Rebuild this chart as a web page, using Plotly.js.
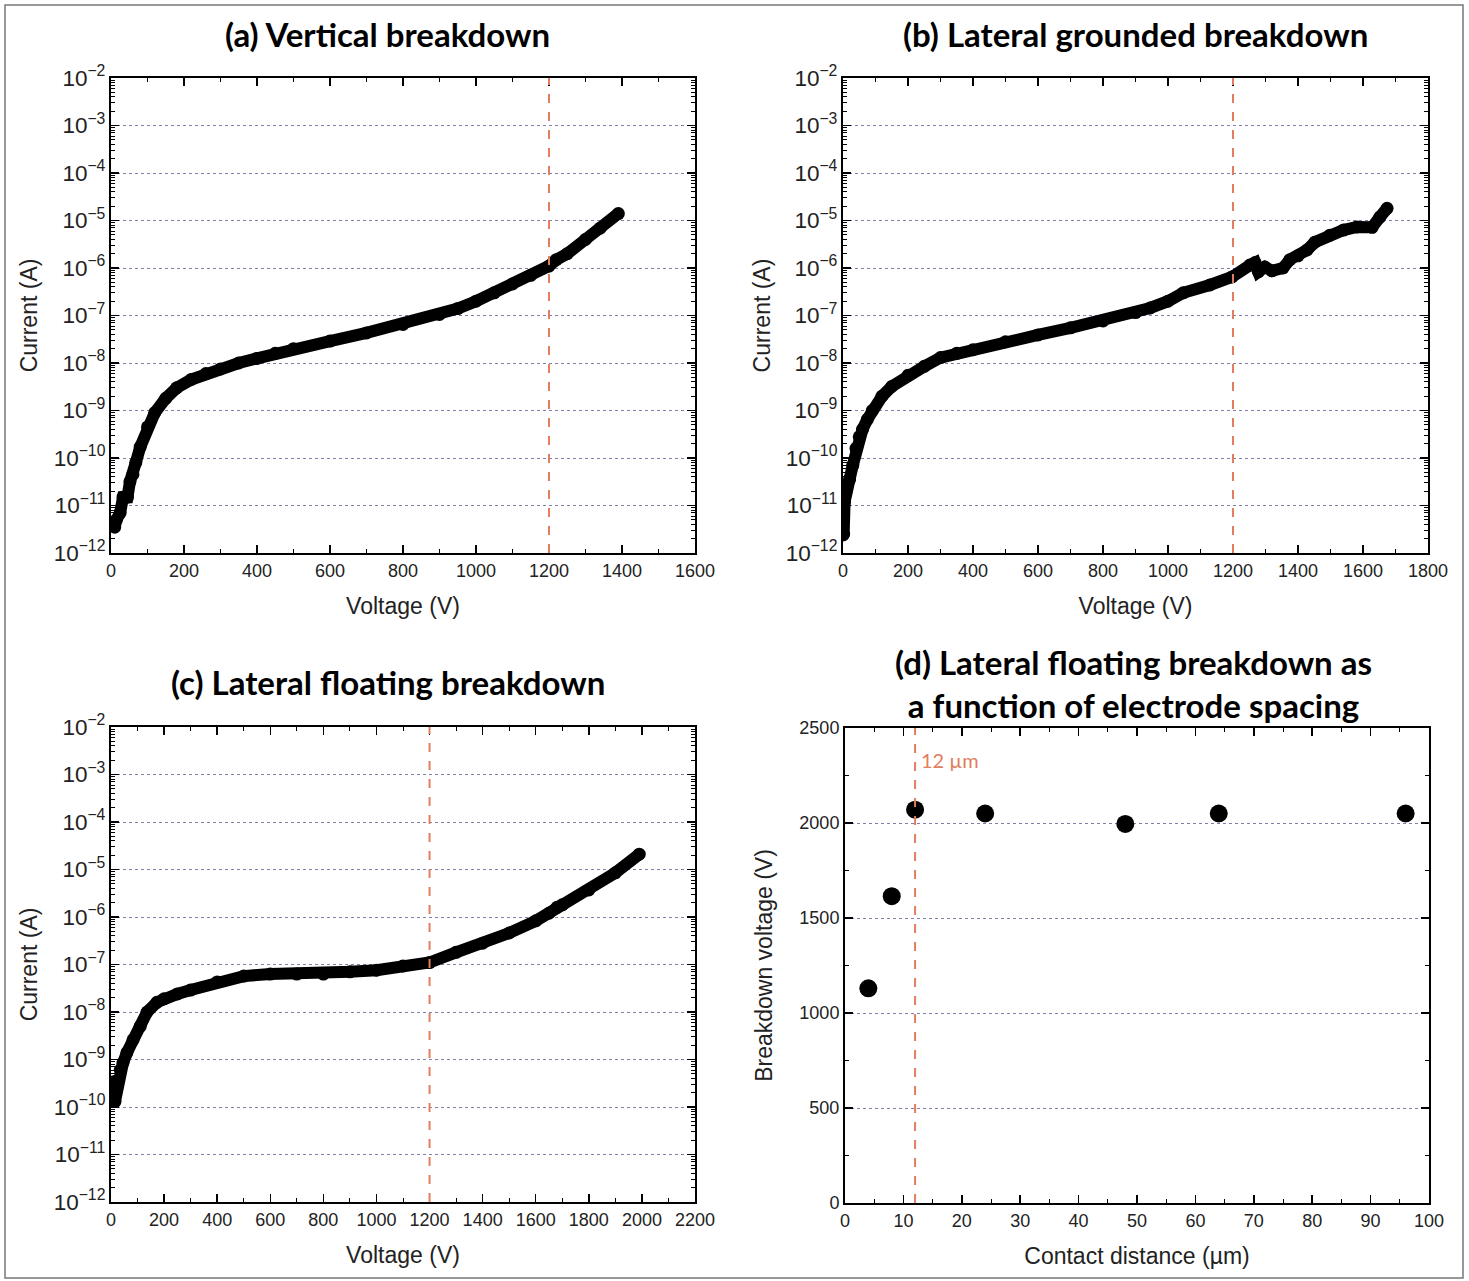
<!DOCTYPE html>
<html>
<head>
<meta charset="utf-8">
<script src="https://cdn.plot.ly/plotly-3.0.1.min.js"></script>
<style>html,body{margin:0;padding:0;background:#fff;}#chart{width:1469px;height:1281px;}</style>
</head>
<body>
<div id="chart"></div>
<script>
// ---- Panel (a): Vertical breakdown ----
const voltageA = [5, 10, 15, 25, 33, 45, 52, 60, 68, 80, 100, 120, 150, 180, 220, 260, 300, 350, 400, 450, 500, 600, 700, 800, 900, 950, 1000, 1050, 1100, 1150, 1200, 1220, 1250, 1300, 1340, 1390];
const currentA = [4e-12, 3.5e-12, 5e-12, 7e-12, 1.5e-11, 1.5e-11, 3.2e-11, 4.5e-11, 8e-11, 1.7e-10, 4.5e-10, 9e-10, 1.8e-9, 3e-9, 4.5e-9, 6e-9, 7.5e-9, 1e-8, 1.25e-8, 1.6e-8, 2e-8, 2.9e-8, 4.3e-8, 6.5e-8, 1.05e-7, 1.4e-7, 2e-7, 3e-7, 4.6e-7, 7e-7, 1.1e-6, 1.5e-6, 2e-6, 4e-6, 6.9e-6, 1.4e-5];

// ---- Panel (b): Lateral grounded breakdown ----
const voltageB = [0, 2, 5, 10, 20, 30, 40, 50, 60, 75, 90, 120, 150, 200, 250, 300, 350, 400, 500, 600, 700, 800, 900, 945, 1000, 1047, 1129, 1197, 1252, 1268, 1278, 1298, 1320, 1354, 1375, 1400, 1428, 1452, 1498, 1540, 1581, 1628, 1652, 1674];
const currentB = [2.4e-12, 2.5e-12, 1.2e-11, 2.5e-11, 3.5e-11, 7e-11, 1.6e-10, 2.8e-10, 4e-10, 6.5e-10, 1e-9, 2e-9, 3.2e-9, 5.5e-9, 8.5e-9, 1.3e-8, 1.6e-8, 1.9e-8, 2.8e-8, 3.9e-8, 5.5e-8, 7.7e-8, 1.15e-7, 1.44e-7, 2e-7, 3e-7, 4.4e-7, 6.5e-7, 1.15e-6, 1.3e-6, 8.3e-7, 1.05e-6, 8.7e-7, 1e-6, 1.5e-6, 1.8e-6, 2.4e-6, 3.5e-6, 4.9e-6, 6.3e-6, 7.3e-6, 7.2e-6, 1.18e-5, 1.8e-5];

// ---- Panel (c): Lateral floating breakdown ----
const voltageC = [2, 5, 10, 15, 26, 35, 45, 60, 83, 110, 136, 173, 200, 250, 300, 400, 500, 600, 700, 800, 900, 1000, 1100, 1200, 1300, 1400, 1500, 1600, 1650, 1680, 1700, 1800, 1900, 1990];
const currentC = [1.4e-10, 2e-10, 3.4e-10, 1.3e-10, 3.7e-10, 6e-10, 8.4e-10, 1.4e-9, 2.6e-9, 5e-9, 1e-8, 1.6e-8, 1.9e-8, 2.4e-8, 2.9e-8, 4.3e-8, 5.7e-8, 6.3e-8, 6.3e-8, 6.3e-8, 7e-8, 7.6e-8, 9.3e-8, 1.1e-7, 1.8e-7, 2.8e-7, 4.6e-7, 8.3e-7, 1.2e-6, 1.6e-6, 1.8e-6, 3.7e-6, 8.5e-6, 2.1e-5];

// ---- Panel (d): breakdown vs electrode spacing ----
const spacingD = [4, 8, 12, 24, 48, 64, 96];
const breakdownD = [1130, 1615, 2070, 2050, 1995, 2050, 2050];

// reference markers
const ratedVoltage = 1200;
const chosenSpacing = 12;
const titles = ["(a) Vertical breakdown", "(b) Lateral grounded breakdown", "(c) Lateral floating breakdown", "(d) Lateral floating breakdown as<br>a function of electrode spacing"];

const RED = '#e27d60';
const GRID = '#8080a8';
const TICKFONT = {family: 'Liberation Sans, Arial, sans-serif', size: 18, color: '#222'};
const TITLEFONT = {family: 'Liberation Sans, Arial, sans-serif', size: 23, color: '#222'};

function curveTrace(x, y, xa, ya) {
  return {x: x, y: y, xaxis: xa, yaxis: ya, type: 'scatter', mode: 'lines+markers',
    line: {color: '#000', width: 12}, marker: {color: '#000', size: 13}, showlegend: false, hoverinfo: 'x+y'};
}

function logY(domain, anchor, standoff) {
  return {domain: domain, anchor: anchor, type: 'log', range: [-12, -2], dtick: 1,
    exponentformat: 'power', showexponent: 'all',
    ticks: 'inside', ticklen: 8, tickwidth: 1.5, tickcolor: '#000',
    showline: true, linewidth: 2, linecolor: '#000', mirror: 'allticks',
    showgrid: true, gridcolor: GRID, griddash: 'dot', gridwidth: 1, zeroline: false,
    minor: {ticks: 'inside', ticklen: 4, tickwidth: 1, tickcolor: '#000', dtick: 'D1', showgrid: false},
    tickfont: TICKFONT,
    title: {text: 'Current (A)', font: TITLEFONT, standoff: standoff}};
}

function linX(domain, anchor, maxv, dt) {
  return {domain: domain, anchor: anchor, range: [0, maxv], dtick: dt, tick0: 0,
    ticks: 'inside', ticklen: 8, tickwidth: 1.5, tickcolor: '#000',
    showline: true, linewidth: 2, linecolor: '#000', mirror: 'allticks',
    showgrid: false, zeroline: false,
    minor: {ticks: 'inside', ticklen: 4, tickwidth: 1, tickcolor: '#000', dtick: dt / 2, showgrid: false},
    tickfont: TICKFONT,
    title: {text: 'Voltage (V)', font: TITLEFONT, standoff: 18}};
}

const data = [
  curveTrace(voltageA, currentA, 'x', 'y'),
  curveTrace(voltageB, currentB, 'x2', 'y2'),
  curveTrace(voltageC, currentC, 'x3', 'y3'),
  {x: spacingD, y: breakdownD, xaxis: 'x4', yaxis: 'y4', type: 'scatter', mode: 'markers',
    marker: {color: '#000', size: 18}, showlegend: false}
];

const colL = [111/1469, 695/1469];
const colR = [843/1469, 1428/1469];
const rowT = [1 - 553/1281, 1 - 78/1281];
const rowB = [1 - 1202/1281, 1 - 727/1281];

const x4 = linX([845/1469, 1429/1469], 'y4', 100, 10);
x4.title = {text: 'Contact distance (µm)', font: TITLEFONT, standoff: 18};
const y4 = {domain: [1 - 1203/1281, 1 - 728/1281], anchor: 'x4', range: [0, 2500], dtick: 500,
  ticks: 'inside', ticklen: 8, tickwidth: 1.5, tickcolor: '#000',
  showline: true, linewidth: 2, linecolor: '#000', mirror: 'allticks',
  showgrid: true, gridcolor: GRID, griddash: 'dot', gridwidth: 1, zeroline: false,
  minor: {ticks: 'inside', ticklen: 4, tickwidth: 1, tickcolor: '#000', dtick: 250, showgrid: false},
  tickfont: TICKFONT,
  title: {text: 'Breakdown voltage (V)', font: TITLEFONT, standoff: 20}};

function vline(xa, ya, xv) {
  return {type: 'line', xref: xa, yref: ya + ' domain', x0: xv, x1: xv, y0: 0, y1: 1,
    line: {color: RED, width: 2, dash: 'dash'}};
}

const TFONT = {family: 'Lato, sans-serif', size: 33, color: '#000', weight: 'bold'};
function titleAnn(text, xc, yc) {
  return {text: '<b>' + text + '</b>', xref: 'paper', yref: 'paper', x: xc/1469, y: 1 - yc/1281,
    xanchor: 'center', yanchor: 'middle', showarrow: false, font: TFONT};
}

const layout = {
  width: 1469, height: 1281,
  margin: {l: 0, r: 0, t: 0, b: 0},
  paper_bgcolor: '#fff', plot_bgcolor: '#fff',
  showlegend: false,
  xaxis: linX(colL, 'y', 1600, 200),
  yaxis: logY(rowT, 'x', 10),
  xaxis2: linX(colR, 'y2', 1800, 200),
  yaxis2: logY(rowT, 'x2', 9),
  xaxis3: linX(colL, 'y3', 2200, 200),
  yaxis3: logY(rowB, 'x3', 10),
  xaxis4: x4,
  yaxis4: y4,
  shapes: [
    vline('x', 'y', ratedVoltage),
    vline('x2', 'y2', ratedVoltage),
    vline('x3', 'y3', ratedVoltage),
    vline('x4', 'y4', chosenSpacing),
    {type: 'rect', xref: 'paper', yref: 'paper', x0: 5/1469, x1: 1463/1469, y0: 1 - 1278/1281, y1: 1 - 5/1281,
      line: {color: '#777', width: 1.5}, fillcolor: 'rgba(0,0,0,0)'}
  ],
  annotations: [
    titleAnn(titles[0], 387, 34),
    titleAnn(titles[1], 1135, 34),
    titleAnn(titles[2], 388, 682),
    titleAnn(titles[3], 1133, 683),
    {text: chosenSpacing + ' µm', xref: 'x4', yref: 'y4', x: chosenSpacing, y: 2330, xanchor: 'left', yanchor: 'middle',
      xshift: 4, showarrow: false, font: {family: 'Lato, sans-serif', size: 20, color: RED}}
  ]
};

Plotly.newPlot('chart', data, layout, {displayModeBar: false, staticPlot: true});
</script>
</body>
</html>
